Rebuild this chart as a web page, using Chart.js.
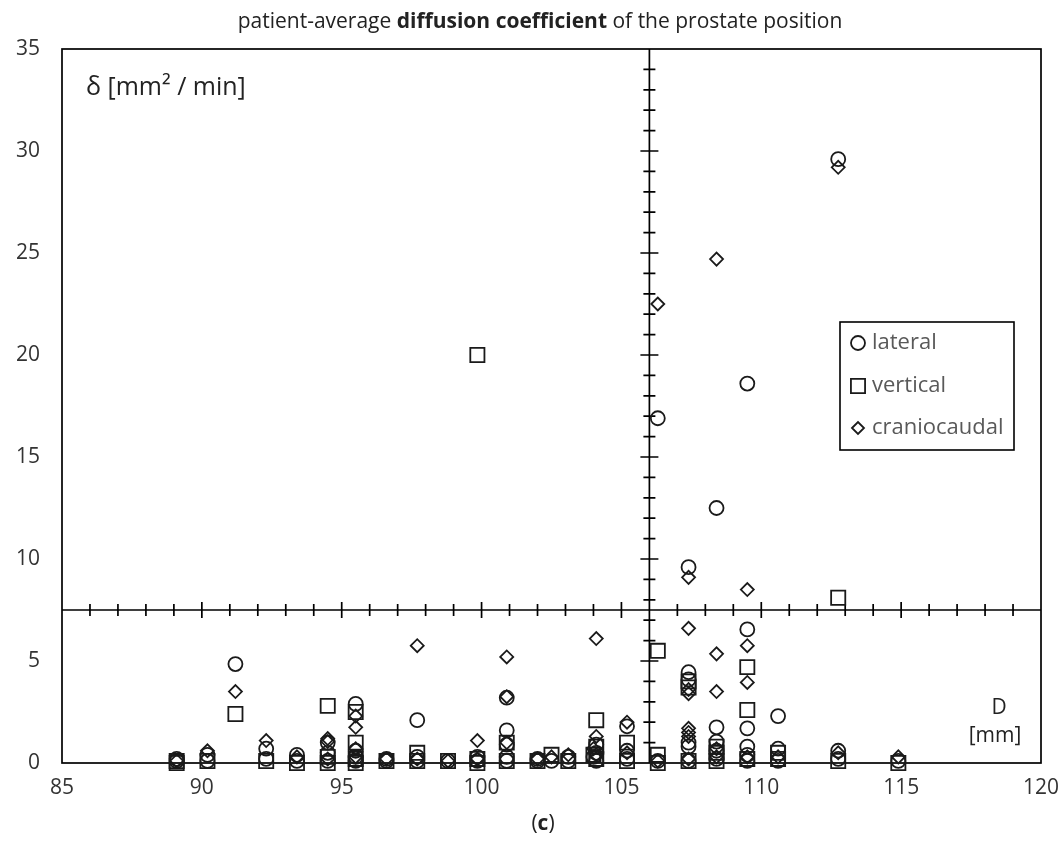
<!DOCTYPE html>
<html>
<head>
<meta charset="utf-8">
<script src="https://cdn.jsdelivr.net/npm/chart.js@4.4.0/dist/chart.umd.min.js"></script>
<style>
  body { margin: 0; background: #fff; }
  #wrap { width: 1064px; height: 854px; }
</style>
</head>
<body>
<div id="wrap"><canvas id="grafico" width="1064" height="854"></canvas></div>
<script>
// valores (D en mm, delta en mm2/min)
var lateralX = [89.1,89.1, 90.2,90.2, 91.2, 92.3,92.3, 93.4,93.4, 94.5,94.5,94.5, 95.5,95.5,95.5,95.5, 96.6,96.6, 97.7,97.7,97.7, 98.8, 99.85,99.85,
  100.9,100.9,100.9,100.9,100.9, 102.0,102.0, 102.5, 103.1,103.1, 104.0, 104.1,104.1,104.1, 105.2,105.2,105.2, 106.3,106.3,
  107.4,107.4,107.4,107.4,107.4,107.4, 108.4,108.4,108.4,108.4,108.4, 109.5,109.5,109.5,109.5,109.5,109.5, 110.6,110.6,110.6, 112.75,112.75,112.75, 114.9];
var lateralY = [0.1,0.2, 0.4,0.1, 4.85, 0.7,0.2, 0.4,0.1, 1.0,0.5,0.1, 2.9,0.6,0.3,0.1, 0.1,0.2, 2.1,0.3,0.1, 0.1, 0.3,0.1,
  3.2,1.6,0.9,0.3,0.1, 0.1,0.2, 0.1, 0.3,0.1, 0.3, 0.9,0.5,0.1, 1.8,0.6,0.2, 16.9,0.1,
  9.6,4.45,4.1,1.0,0.8,0.1, 12.5,1.75,1.05,0.6,0.2, 18.6,6.55,1.7,0.8,0.4,0.1, 2.3,0.7,0.1, 29.6,0.6,0.2, 0.1];

var verticalX = [89.1,89.1, 90.2, 91.2, 92.3, 93.4, 94.5,94.5,94.5, 95.5,95.5,95.5,95.5, 96.6, 97.7,97.7, 98.8, 99.85,99.85,99.85,
  100.9,100.9, 102.0, 102.5, 103.1, 104.0, 104.1,104.1,104.1, 105.2,105.2, 106.3,106.3,106.3, 107.4,107.4,107.4,
  108.4,108.4,108.4, 109.5,109.5,109.5, 110.6,110.6, 112.75,112.75, 114.9];
var verticalY = [0.1,0.0, 0.1, 2.4, 0.1, 0.0, 2.8,0.3,0.0, 2.5,1.0,0.2,0.0, 0.1, 0.5,0.1, 0.1, 20.0,0.2,0.0,
  1.0,0.1, 0.1, 0.4, 0.1, 0.4, 2.1,0.8,0.2, 1.0,0.1, 5.5,0.4,0.0, 4.0,3.7,0.1,
  0.8,0.5,0.1, 4.7,2.6,0.2, 0.5,0.2, 8.1,0.1, 0.0];

var craniocaudalX = [89.1, 90.2, 91.2, 92.3, 93.4, 94.5,94.5,94.5, 95.5,95.5,95.5,95.5, 96.6, 97.7,97.7, 98.8, 99.85,99.85,
  100.9,100.9,100.9, 102.0, 102.5, 103.1, 104.0, 104.1,104.1,104.1, 105.2,105.2, 106.3,106.3,
  107.4,107.4,107.4,107.4,107.4,107.4,107.4,107.4, 108.4,108.4,108.4,108.4,108.4, 109.5,109.5,109.5,109.5, 110.6, 112.75,112.75, 114.9];
var craniocaudalY = [0.1, 0.6, 3.5, 1.1, 0.3, 1.2,1.05,0.2, 2.3,1.75,0.7,0.3, 0.2, 5.75,0.2, 0.1, 1.1,0.2,
  5.2,3.25,1.0, 0.2, 0.3, 0.4, 0.7, 6.1,1.3,0.4, 2.0,0.5, 22.5,0.1,
  9.1,6.6,3.6,3.4,1.7,1.5,1.3,0.2, 24.7,5.35,3.5,0.7,0.3, 8.5,5.75,3.95,0.3, 0.3, 29.2,0.5, 0.3];

var series = ["lateral", "vertical", "craniocaudal"];
var xTicks = [85, 90, 95, 100, 105, 110, 115, 120];
var yTicks = [0, 5, 10, 15, 20, 25, 30, 35];
var cruceX = 106;   // donde se cruzan los ejes interiores
var cruceY = 7.5;

function puntos(xs, ys) {
  var r = [];
  for (var i = 0; i < xs.length; i++) r.push({x: xs[i], y: ys[i]});
  return r;
}

var fuente = "'Open Sans', 'Noto Sans', sans-serif";
var negro = '#1a1a1a';

var decorado = {
  id: 'decorado',
  beforeDatasetsDraw: function(chart) {
    var ctx = chart.ctx, a = chart.chartArea;
    var sx = chart.scales.x, sy = chart.scales.y;
    var cx = sx.getPixelForValue(cruceX), cy = sy.getPixelForValue(cruceY);
    ctx.save();
    ctx.strokeStyle = '#000';
    ctx.lineWidth = 1.7;
    ctx.strokeRect(a.left, a.top, a.right - a.left, a.bottom - a.top);
    ctx.beginPath();
    ctx.moveTo(a.left, cy); ctx.lineTo(a.right, cy);
    ctx.moveTo(cx, a.top); ctx.lineTo(cx, a.bottom);
    for (var v = xTicks[0] + 1; v < xTicks[xTicks.length - 1]; v++) {
      var px = sx.getPixelForValue(v);
      var l = (v % 5 == 0) ? 8 : 6;
      ctx.moveTo(px, cy - l); ctx.lineTo(px, cy + l);
    }
    for (var w = 1; w < yTicks[yTicks.length - 1]; w++) {
      var py = sy.getPixelForValue(w);
      var l2 = (w % 5 == 0) ? 9 : 6;
      ctx.moveTo(cx - l2, py); ctx.lineTo(cx + l2, py);
    }
    ctx.stroke();
    ctx.restore();
  },
  afterDraw: function(chart) {
    var ctx = chart.ctx;
    ctx.save();
    ctx.textBaseline = 'middle';
    ctx.fillStyle = '#222';

    // titulo con parte en negrita
    var partes = [["patient-average ", "400"], ["diffusion coefficient", "700"], [" of the prostate position", "400"]];
    var tam = " 21px ";
    var total = 0;
    partes.forEach(function(p) { ctx.font = p[1] + tam + fuente; total += ctx.measureText(p[0]).width; });
    var x0 = 540 - total / 2;
    partes.forEach(function(p) {
      ctx.font = p[1] + tam + fuente;
      ctx.textAlign = 'left';
      ctx.fillText(p[0], x0, 22);
      x0 += ctx.measureText(p[0]).width;
    });

    // textos de los ejes
    ctx.font = "400 25px " + fuente;
    ctx.textAlign = 'left';
    ctx.fillText("\u03b4 [mm\u00b2 / min]", 86, 88);
    ctx.font = "400 21px " + fuente;
    ctx.textAlign = 'center';
    ctx.fillText("D", 999, 708);
    ctx.fillText("[mm]", 995, 736);

    // (c)
    var t1 = "(", t2 = "c", t3 = ")";
    ctx.font = "400 21px " + fuente;
    var w1 = ctx.measureText(t1).width, w3 = ctx.measureText(t3).width;
    ctx.font = "700 21px " + fuente;
    var w2 = ctx.measureText(t2).width;
    var xs = 543 - (w1 + w2 + w3) / 2;
    ctx.textAlign = 'left';
    ctx.font = "400 21px " + fuente; ctx.fillText(t1, xs, 824);
    ctx.font = "700 21px " + fuente; ctx.fillText(t2, xs + w1, 824);
    ctx.font = "400 21px " + fuente; ctx.fillText(t3, xs + w1 + w2, 824);

    // leyenda dentro del area
    var lx = 840, ly = 322, lw = 174, lh = 128;
    ctx.fillStyle = '#fff';
    ctx.fillRect(lx, ly, lw, lh);
    ctx.strokeStyle = '#000';
    ctx.lineWidth = 1.6;
    ctx.strokeRect(lx, ly, lw, lh);
    var filas = [343, 386, 428];
    chart.data.datasets.forEach(function(ds, i) {
      var y = filas[i];
      ctx.fillStyle = 'rgba(0,0,0,0)';
      ctx.strokeStyle = negro;
      ctx.lineWidth = 1.8;
      Chart.helpers.drawPoint(ctx, {pointStyle: ds.pointStyle, radius: ds.pointRadius - (i == 2 ? 0.5 : 0), borderWidth: 1.8}, 858, y);
      ctx.font = "400 22px " + fuente;
      ctx.fillStyle = '#595959';
      ctx.textAlign = 'left';
      ctx.fillText(ds.label, 872, y);
    });
    ctx.restore();
  }
};

function estilo(nombre, xs, ys, forma, radio) {
  return {
    label: nombre,
    data: puntos(xs, ys),
    pointStyle: forma,
    pointRadius: radio,
    pointHoverRadius: radio,
    borderWidth: 1.8,
    borderColor: negro,
    backgroundColor: 'rgba(0,0,0,0)',
    clip: false
  };
}

var ctxG = document.getElementById("grafico").getContext("2d");
var grafico = new Chart(ctxG, {
  type: 'scatter',
  data: {
    datasets: [
      estilo(series[0], lateralX, lateralY, 'circle', 7),
      estilo(series[1], verticalX, verticalY, 'rect', 10),
      estilo(series[2], craniocaudalX, craniocaudalY, 'rectRot', 6.5)
    ]
  },
  options: {
    responsive: false,
    animation: false,
    layout: { padding: { top: 49, right: 23, left: 0, bottom: 0 } },
    plugins: {
      legend: { display: false },
      title: { display: false },
      tooltip: { enabled: false }
    },
    scales: {
      x: {
        type: 'linear',
        min: 85, max: 120,
        afterBuildTicks: function(s) { s.ticks = xTicks.map(function(v) { return {value: v}; }); },
        afterFit: function(s) { s.height = 91; s.paddingLeft = 0; s.paddingRight = 0; },
        grid: { display: false, drawTicks: false },
        border: { display: false },
        ticks: { padding: 12, color: '#333', font: { family: fuente, size: 21 }, maxRotation: 0 }
      },
      y: {
        type: 'linear',
        min: 0, max: 35,
        afterBuildTicks: function(s) { s.ticks = yTicks.map(function(v) { return {value: v}; }); },
        afterFit: function(s) { s.width = 62; s.paddingTop = 0; s.paddingBottom = 0; },
        grid: { display: false, drawTicks: false },
        border: { display: false },
        ticks: { padding: 22, color: '#333', font: { family: fuente, size: 21 } }
      }
    }
  },
  plugins: [decorado]
});
</script>
</body>
</html>
